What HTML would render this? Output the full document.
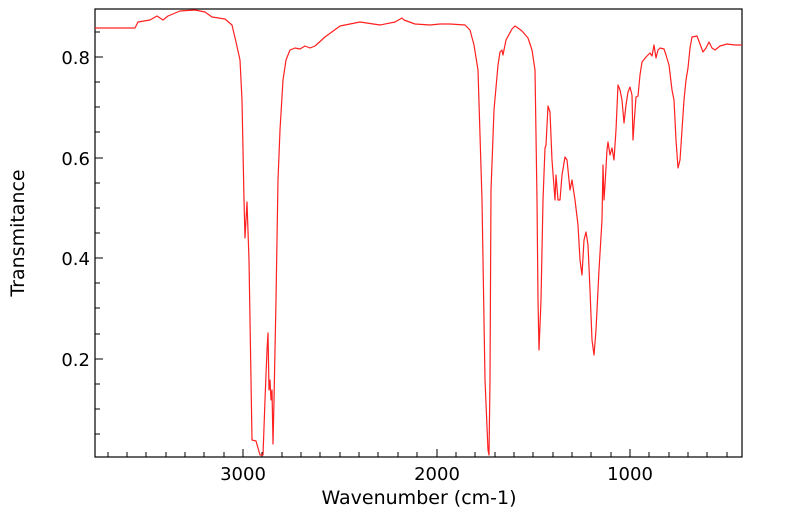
<!DOCTYPE html>
<html><head><style>
body{margin:0;background:#fff;}
svg text{font-family:"DejaVu Sans","Liberation Sans",sans-serif;fill:#000;}
</style></head><body>
<svg width="799" height="516" xmlns="http://www.w3.org/2000/svg">
<rect x="95" y="9" width="647" height="448" fill="none" stroke="#000" stroke-width="1.2"/>
<g stroke="#000" stroke-width="1">
<line x1="243" y1="457" x2="243" y2="449"/><line x1="437" y1="457" x2="437" y2="449"/><line x1="630" y1="457" x2="630" y2="449"/>
<line x1="108" y1="457" x2="108" y2="452"/><line x1="127" y1="457" x2="127" y2="452"/><line x1="146" y1="457" x2="146" y2="452"/><line x1="166" y1="457" x2="166" y2="452"/><line x1="185" y1="457" x2="185" y2="452"/><line x1="204" y1="457" x2="204" y2="452"/><line x1="224" y1="457" x2="224" y2="452"/>
<line x1="262" y1="457" x2="262" y2="452"/><line x1="282" y1="457" x2="282" y2="452"/><line x1="301" y1="457" x2="301" y2="452"/><line x1="320" y1="457" x2="320" y2="452"/><line x1="340" y1="457" x2="340" y2="452"/><line x1="359" y1="457" x2="359" y2="452"/><line x1="378" y1="457" x2="378" y2="452"/><line x1="398" y1="457" x2="398" y2="452"/><line x1="417" y1="457" x2="417" y2="452"/>
<line x1="456" y1="457" x2="456" y2="452"/><line x1="475" y1="457" x2="475" y2="452"/><line x1="495" y1="457" x2="495" y2="452"/><line x1="514" y1="457" x2="514" y2="452"/><line x1="533" y1="457" x2="533" y2="452"/><line x1="553" y1="457" x2="553" y2="452"/><line x1="572" y1="457" x2="572" y2="452"/><line x1="591" y1="457" x2="591" y2="452"/><line x1="611" y1="457" x2="611" y2="452"/>
<line x1="649" y1="457" x2="649" y2="452"/><line x1="669" y1="457" x2="669" y2="452"/><line x1="688" y1="457" x2="688" y2="452"/><line x1="707" y1="457" x2="707" y2="452"/><line x1="727" y1="457" x2="727" y2="452"/>
<line x1="95" y1="57" x2="103" y2="57"/><line x1="95" y1="158" x2="103" y2="158"/><line x1="95" y1="258" x2="103" y2="258"/><line x1="95" y1="359" x2="103" y2="359"/>
<line x1="95" y1="32" x2="100" y2="32"/><line x1="95" y1="82" x2="100" y2="82"/><line x1="95" y1="107" x2="100" y2="107"/><line x1="95" y1="132" x2="100" y2="132"/><line x1="95" y1="183" x2="100" y2="183"/><line x1="95" y1="208" x2="100" y2="208"/><line x1="95" y1="233" x2="100" y2="233"/><line x1="95" y1="283" x2="100" y2="283"/><line x1="95" y1="308" x2="100" y2="308"/><line x1="95" y1="334" x2="100" y2="334"/><line x1="95" y1="384" x2="100" y2="384"/><line x1="95" y1="409" x2="100" y2="409"/><line x1="95" y1="434" x2="100" y2="434"/>
</g>
<g font-size="18">
<text x="243" y="480" text-anchor="middle">3000</text>
<text x="437" y="480" text-anchor="middle">2000</text>
<text x="630" y="480" text-anchor="middle">1000</text>
<text x="90" y="64" text-anchor="end">0.8</text>
<text x="90" y="165" text-anchor="end">0.6</text>
<text x="90" y="265" text-anchor="end">0.4</text>
<text x="90" y="366" text-anchor="end">0.2</text>
<text x="419" y="504" text-anchor="middle" font-size="19">Wavenumber (cm-1)</text>
<text transform="translate(24,233) rotate(-90)" text-anchor="middle" font-size="19">Transmitance</text>
</g>
<polyline fill="none" stroke="#ff2020" stroke-width="1.2" stroke-linejoin="round" points="95,28 135,28 138,22 150,20 157,16 163,20 168,16 180,11 195,10 205,12 212,17 225,19 232,25 236,42 240,60 242,100 244,200 245,238 247,202 249,260 251,380 252,440 256,441 258,448 260,455 263,455 265,400 267,350 268,333 269,390 270,380 271,400 272,390 273,444 274,400 276,300 278,180 280,130 283,80 286,60 290,50 295,48 300,49 305,46 310,48 315,46 325,37 340,26 360,22 380,25 395,22 402,18 404,20 415,24 430,25 440,24 450,24 465,25 470,30 474,45 478,70 482,200 485,380 488,450 489,455 490,380 491,190 494,110 498,65 500,52 502,50 503,55 506,40 512,29 515,26 518,28 522,31 528,38 532,50 535,70 537,200 538,300 539,350 541,300 543,200 545,148 546,145 548,106 550,112 552,160 555,200 556,175 558,200 560,200 562,175 565,157 567,160 570,190 572,180 575,200 578,225 580,260 582,275 584,240 586,232 588,245 590,290 592,340 594,355 596,330 599,270 602,220 603,165 604,200 605,185 607,150 608,142 610,155 612,148 614,160 616,130 618,85 620,90 622,100 624,123 626,105 628,92 630,87 632,95 633,140 634,125 636,97 638,96 640,75 642,62 646,57 650,53 652,56 654,45 656,58 658,50 660,48 664,49 666,55 669,65 672,90 674,100 676,140 678,168 680,160 682,130 684,100 686,80 688,68 690,48 692,37 697,36 700,44 703,52 706,48 709,42 712,48 715,50 720,46 727,44 735,45 742,45"/>
</svg>
</body></html>
